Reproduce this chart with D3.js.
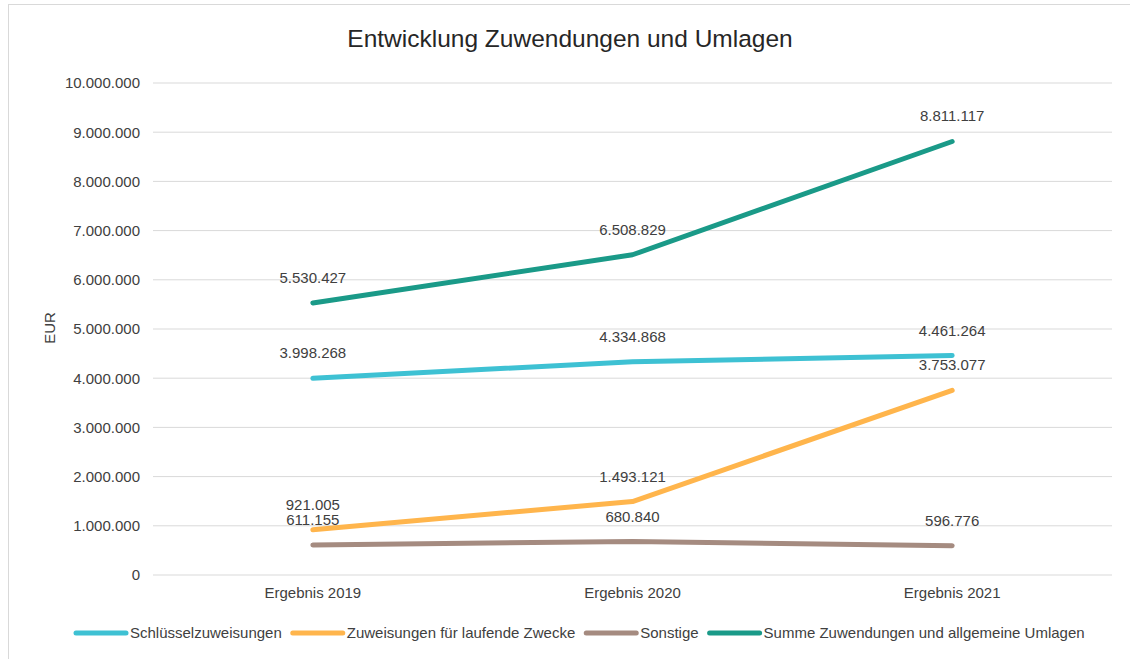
<!DOCTYPE html>
<html>
<head>
<meta charset="utf-8">
<script src="https://cdn.jsdelivr.net/npm/d3@7"></script>
<style>
  body { margin: 0; background: #fff; }
  svg text { font-family: "Liberation Sans", Arial, sans-serif; fill: #404040; }
</style>
</head>
<body>
<svg id="chart" width="1130" height="659"></svg>
<script>
// data
var categories = ["Ergebnis 2019", "Ergebnis 2020", "Ergebnis 2021"];
var seriesNames = ["Schlüsselzuweisungen", "Zuweisungen für laufende Zwecke", "Sonstige", "Summe Zuwendungen und allgemeine Umlagen"];
var schluessel = [3998268, 4334868, 4461264];
var laufend = [921005, 1493121, 3753077];
var sonstige = [611155, 680840, 596776];
var summe = [5530427, 6508829, 8811117];
var yTicks = [0, 1000000, 2000000, 3000000, 4000000, 5000000, 6000000, 7000000, 8000000, 9000000, 10000000];

var colors = ["#3EC1D3", "#FFB54C", "#A58B80", "#1A9A88"];
var series = [schluessel, laufend, sonstige, summe];

var svg = d3.select("#chart");
var margin = { left: 153, right: 1112, top: 83, bottom: 575 };
var fontSize = "15px";

// fmt with dots as thousands
var de = d3.formatLocale({ decimal: ",", thousands: ".", grouping: [3], currency: ["", " €"] });
var fmt = de.format(",.0f");

// chart border
svg.append("rect")
    .attr("x", 8.5).attr("y", 4.5)
    .attr("width", 1130).attr("height", 700)
    .attr("fill", "none")
    .attr("stroke", "#d9d9d9");

var x = d3.scaleBand().domain(categories).range([margin.left, margin.right]);
var y = d3.scaleLinear().domain([0, 10000000]).range([margin.bottom, margin.top]);

// gridlines
svg.append("g").selectAll("line").data(yTicks).enter().append("line")
    .attr("x1", margin.left).attr("x2", margin.right)
    .attr("y1", d => y(d)).attr("y2", d => y(d))
    .attr("stroke", "#d9d9d9").attr("stroke-width", 1);

// y axis labels
var yAxis = d3.axisLeft(y).tickValues(yTicks).tickFormat(fmt).tickSize(0).tickPadding(13);
var gy = svg.append("g").attr("transform", "translate(" + margin.left + ",0)").call(yAxis);
gy.select(".domain").remove();
gy.selectAll("text").attr("font-size", fontSize).style("fill", "#404040")
    .style("font-family", "'Liberation Sans', Arial, sans-serif");

// x axis labels
var xAxis = d3.axisBottom(x).tickSize(0).tickPadding(12);
var gx = svg.append("g").attr("transform", "translate(0," + margin.bottom + ")").call(xAxis);
gx.select(".domain").remove();
gx.selectAll("text").attr("font-size", fontSize).style("fill", "#404040")
    .style("font-family", "'Liberation Sans', Arial, sans-serif");

// title
svg.append("text")
    .attr("x", 570).attr("y", 47)
    .attr("text-anchor", "middle")
    .attr("font-size", "24.5px")
    .style("fill", "#262626")
    .text("Entwicklung Zuwendungen und Umlagen");

// y title
svg.append("text")
    .attr("transform", "translate(55,328) rotate(-90)")
    .attr("text-anchor", "middle")
    .attr("font-size", fontSize)
    .text("EUR");

// lines
var line = d3.line()
    .x((d, i) => x(categories[i]) + x.bandwidth() / 2)
    .y(d => y(d));

series.forEach((s, k) => {
    svg.append("path")
        .datum(s)
        .attr("d", line)
        .attr("fill", "none")
        .attr("stroke", colors[k])
        .attr("stroke-width", 5)
        .attr("stroke-linecap", "round")
        .attr("stroke-linejoin", "round");
});

// data labels
series.forEach((s, k) => {
    svg.append("g").selectAll("text").data(s).enter().append("text")
        .attr("x", (d, i) => x(categories[i]) + x.bandwidth() / 2)
        .attr("y", d => y(d) - 20)
        .attr("text-anchor", "middle")
        .attr("font-size", fontSize)
        .text(d => fmt(d));
});

// legend
var legend = svg.append("g").attr("transform", "translate(76,633)");
var lx = 0;
seriesNames.forEach((name, k) => {
    var item = legend.append("g").attr("transform", "translate(" + lx + ",0)");
    item.append("line")
        .attr("x1", 0).attr("x2", 50).attr("y1", 0).attr("y2", 0)
        .attr("stroke", colors[k]).attr("stroke-width", 5)
        .attr("stroke-linecap", "round");
    var t = item.append("text")
        .attr("x", 54).attr("y", 5)
        .attr("font-size", fontSize)
        .text(name);
    lx += 54 + t.node().getComputedTextLength() + 11;
});
</script>
</body>
</html>
